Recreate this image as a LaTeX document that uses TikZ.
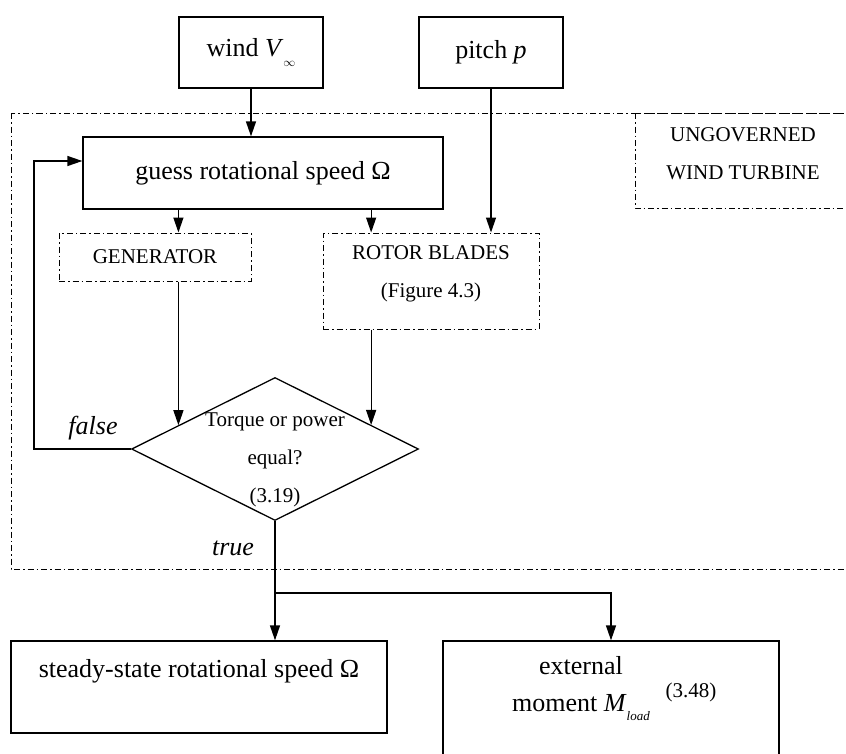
\documentclass[tikz,border=0pt]{standalone}
\usepackage{fontspec}
\setmainfont{Liberation Serif}
\usetikzlibrary{arrows.meta,shapes.geometric,calc}
\begin{document}
\begin{tikzpicture}[x=1pt,y=-1pt,line width=1.3pt,
  box/.style={draw,rectangle,inner sep=0pt,font=\fontsize{26}{37}\selectfont},
  dbox/.style={draw,dash pattern=on 6pt off 3pt on 1.5pt off 3pt,line width=1pt},
  small/.style={font=\fontsize{21}{38}\selectfont,align=center},
  big/.style={font=\fontsize{26}{37}\selectfont,align=center},
  arr/.style={-{Triangle[length=15pt,width=10pt]}}]
\useasboundingbox (0,0) rectangle (846,753);
\clip (0,0) rectangle (846,753);
% inputs
\node[box,minimum width=144pt,minimum height=71pt] (wind) at (251,52.5)
  {wind \textit{V}\raisebox{-10pt}{\fontsize{13}{13}\selectfont$\infty$}};
\node[box,minimum width=144pt,minimum height=71pt] (pitch) at (491,52.5) {pitch \textit{p}};
% ungoverned turbine
\draw[dbox] (11,113) rectangle (860,569);
\draw[dbox] (635,113) rectangle (860,208);
\node[small] (ungov) at (743,154) {UNGOVERNED\\WIND TURBINE};
\node[box,minimum width=360pt,minimum height=72pt] (guess) at (263,173) {guess rotational speed Ω};
\node[box,dbox,minimum width=192pt,minimum height=48pt,font=\fontsize{21}{38}\selectfont] (gen) at (155,257) {GENERATOR};
\node[draw,dbox,minimum width=216pt,minimum height=96pt] (rotor) at (431,281) {};
\node[small] (rotortext) at (431,274) {ROTOR BLADES\\(Figure 4.3)};
\node[draw,diamond,aspect=2,inner sep=0pt,minimum width=287pt,minimum height=143pt] (dec) at (275,449) {};
\node[small] (dectext) at (275,460) {Torque or power\\equal?\\(3.19)};
\coordinate (genin) at ($(dec.west)!0.33!(dec.north)$);
\coordinate (rotin) at ($(dec.north)!0.667!(dec.east)$);
\draw[arr] (wind.south) -- (wind.south |- guess.north);
\draw[arr] (pitch.south) -- (pitch.south |- rotor.north);
\draw[arr] (guess.south -| genin) -- (gen.north -| genin);
\draw[arr] (guess.south -| rotin) -- (rotor.north -| rotin);
\draw[arr] (gen.south -| genin) -- (genin);
\draw[arr] (rotor.south -| rotin) -- (rotin);
\draw[arr] (dec.west) -- ++(-97,0) |- ([yshift=12pt]guess.west);
\node[big,font=\fontsize{26}{30}\selectfont\itshape] (false) at (93,428) {false};
\node[big,font=\fontsize{26}{30}\selectfont\itshape] (true) at (233,548) {true};
% outputs
\node[box,minimum width=376pt,minimum height=92pt] (steady) at (199,687) {};
\node[big] (steadytext) at (199,671) {steady-state rotational speed Ω};
\node[box,minimum width=336pt,minimum height=119pt] (ext) at (611,700.5) {};
\node[big] (exttext) at (581,689) {external\\moment \textit{M}\raisebox{-9pt}{\fontsize{13}{13}\selectfont\textit{load}}};
\node[small] (extref) at (691,692) {(3.48)};
\coordinate (branch) at (275,593);
\draw[arr] (dec.south) -- (dec.south |- steady.north);
\draw[arr] (branch) -| (ext.north);
\end{tikzpicture}
\end{document}
